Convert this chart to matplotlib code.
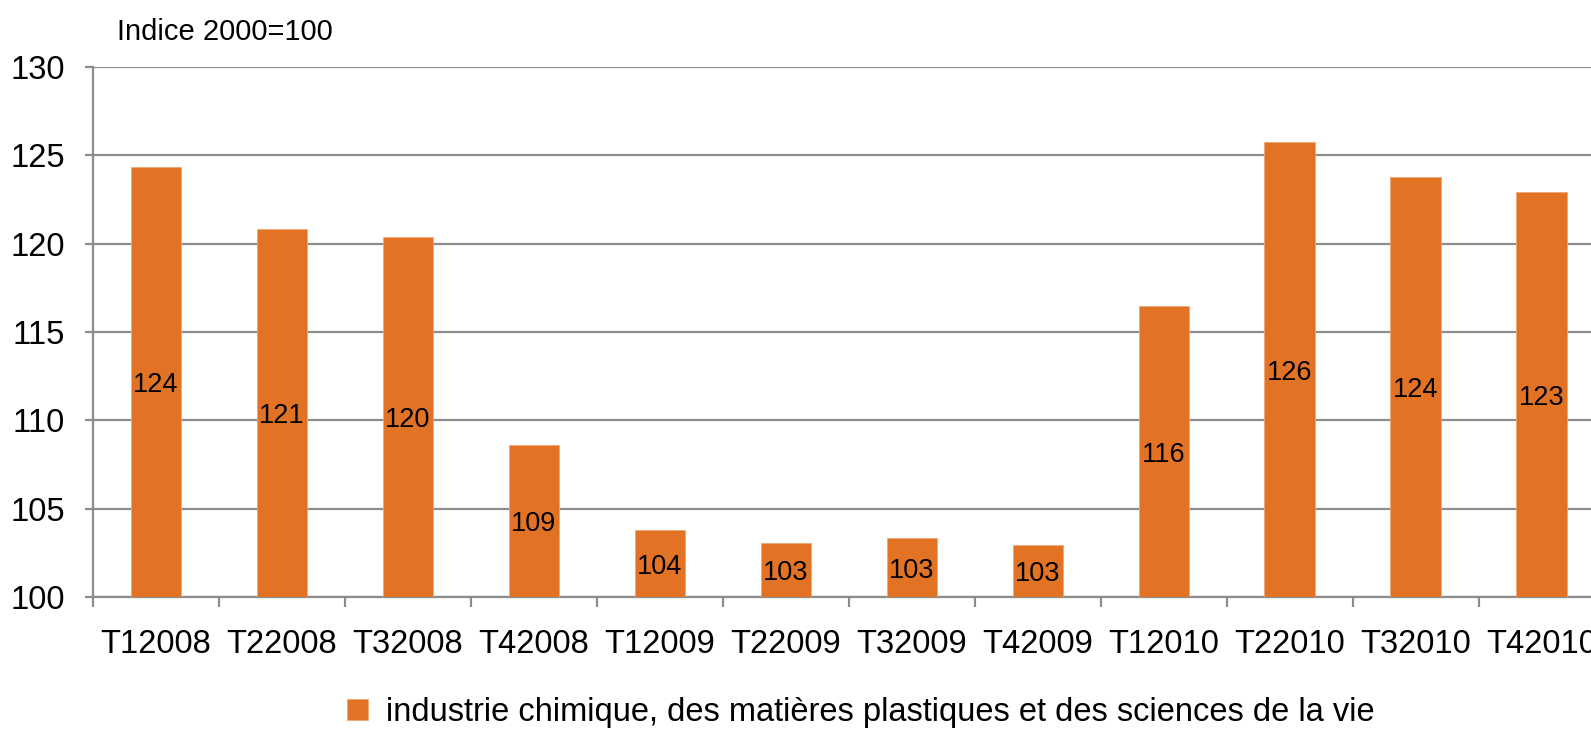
import numpy as np
import matplotlib.pyplot as plt
from matplotlib.ticker import FixedLocator

plt.rcParams['font.family'] = ['Liberation Sans', 'DejaVu Sans']

# données
trimestres = ['T12008', 'T22008', 'T32008', 'T42008', 'T12009', 'T22009',
              'T32009', 'T42009', 'T12010', 'T22010', 'T32010', 'T42010']
indice = [124.34, 120.80, 120.40, 108.59, 103.78, 103.06,
          103.34, 102.93, 116.46, 125.74, 123.78, 122.93]
serie = 'industrie chimique, des matières plastiques et des sciences de la vie'

ORANGE = '#E37324'
GRIS = '#8c8c8c'

fig = plt.figure(figsize=(15.91, 7.39), dpi=100)
# l'axe dépasse à droite comme sur l'original (image rognée)
ax = fig.add_axes([0.0583, 0.1918, 0.9503, 0.7179])

x = np.arange(len(trimestres))
bars = ax.bar(x, [v - 100 for v in indice], bottom=100, width=0.4,
              color=ORANGE, edgecolor='#F2A772', linewidth=0.6,
              label=serie, zorder=3)

# étiquettes au milieu des barres
for xi, v in zip(x, indice):
    ax.text(xi, (100 + v) / 2, "%d" % round(v), ha='center', va='center_baseline',
            fontsize=19.5, color='black', zorder=4)

ax.set_xlim(-0.5, len(trimestres) - 0.5)
ax.set_ylim(100, 130)
ax.set_yticks(np.arange(100, 131, 5))
ax.yaxis.grid(True, color=GRIS, linewidth=1.6, zorder=0)
ax.set_axisbelow(True)

ax.set_xticks(x)
ax.set_xticklabels(trimestres, fontsize=23.5)
ax.xaxis.set_minor_locator(FixedLocator(np.arange(-0.5, len(trimestres), 1)))
ax.tick_params(axis='x', which='major', length=0, pad=23)
ax.tick_params(axis='x', which='minor', length=7, width=1.6, color=GRIS, direction='out')
ax.tick_params(axis='y', length=6, width=1.6, color=GRIS, pad=14, labelsize=23.5)

for s in ['top', 'right']:
    ax.spines[s].set_visible(False)
for s in ['left', 'bottom']:
    ax.spines[s].set_color(GRIS)
    ax.spines[s].set_linewidth(1.6)

fig.text(0.0735, 0.957, 'Indice 2000=100', fontsize=21, ha='left', va='center')

fig.legend(handles=[bars], labels=[serie], loc='center',
           bbox_to_anchor=(0.541, 0.036), frameon=False, fontsize=23.5,
           handlelength=0.65, handleheight=0.65, handletextpad=0.55)

fig.savefig('out.png', dpi=100)
